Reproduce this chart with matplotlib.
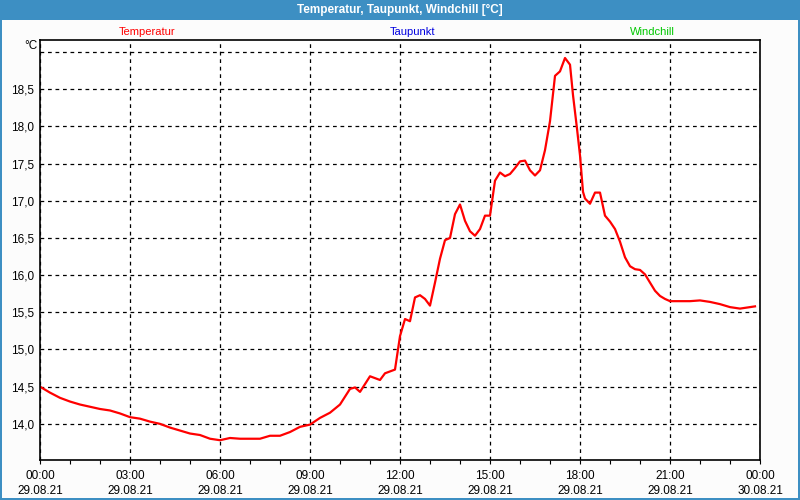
import matplotlib
matplotlib.use("Agg")
import matplotlib.pyplot as plt
import numpy as np

plt.rcParams['font.family'] = ['Liberation Sans', 'DejaVu Sans']

hours = [0, 0.333, 0.667, 1.0, 1.333, 1.667, 2.0, 2.333, 2.667, 3.0, 3.333, 3.667, 4.0,
         4.333, 4.667, 5.0, 5.333, 5.667, 6.0, 6.333, 6.667, 7.0, 7.333, 7.667, 8.0,
         8.333, 8.667, 9.0, 9.333, 9.667, 10.0, 10.333, 10.5, 10.667, 11.0, 11.333,
         11.5, 11.833, 12.0, 12.167, 12.333, 12.5, 12.667, 12.833, 13.0, 13.167,
         13.333, 13.5, 13.667, 13.833, 14.0, 14.167, 14.333, 14.5, 14.667, 14.833,
         15.0, 15.167, 15.333, 15.5, 15.667, 15.833, 16.0, 16.167, 16.333, 16.5,
         16.667, 16.833, 17.0, 17.167, 17.333, 17.5, 17.667, 17.767, 17.9, 18.0,
         18.1, 18.167, 18.333, 18.5, 18.667, 18.833, 19.0, 19.167, 19.333, 19.5,
         19.667, 19.833, 20.0, 20.167, 20.333, 20.5, 20.667, 20.833, 21.0, 21.333,
         21.667, 22.0, 22.333, 22.667, 23.0, 23.333, 23.667, 23.833]
temperatur = [14.50, 14.42, 14.35, 14.30, 14.26, 14.23, 14.20, 14.18, 14.14, 14.09, 14.07, 14.03, 14.00,
              13.95, 13.91, 13.87, 13.85, 13.80, 13.78, 13.81, 13.80, 13.80, 13.80, 13.84, 13.84,
              13.89, 13.96, 13.99, 14.08, 14.15, 14.26, 14.47, 14.49, 14.43, 14.64, 14.59,
              14.68, 14.73, 15.18, 15.41, 15.38, 15.70, 15.73, 15.68, 15.59, 15.90,
              16.22, 16.47, 16.50, 16.82, 16.95, 16.73, 16.59, 16.53, 16.62, 16.80,
              16.80, 17.27, 17.38, 17.33, 17.36, 17.44, 17.53, 17.54, 17.41, 17.34,
              17.41, 17.68, 18.07, 18.68, 18.74, 18.92, 18.83, 18.42, 17.97, 17.61,
              17.12, 17.03, 16.96, 17.11, 17.11, 16.80, 16.72, 16.62, 16.45, 16.24,
              16.12, 16.08, 16.07, 16.01, 15.90, 15.79, 15.72, 15.68, 15.65, 15.65,
              15.65, 15.66, 15.64, 15.61, 15.57, 15.55, 15.57, 15.58]

xtick_hours = [0, 3, 6, 9, 12, 15, 18, 21, 24]
xtick_labels = ["00:00\n29.08.21", "03:00\n29.08.21", "06:00\n29.08.21", "09:00\n29.08.21",
                "12:00\n29.08.21", "15:00\n29.08.21", "18:00\n29.08.21", "21:00\n29.08.21",
                "00:00\n30.08.21"]
ytick_vals = [14.0, 14.5, 15.0, 15.5, 16.0, 16.5, 17.0, 17.5, 18.0, 18.5, 19.0]
ytick_labels = ["14,0", "14,5", "15,0", "15,5", "16,0", "16,5", "17,0", "17,5", "18,0", "18,5", ""]

title = "Temperatur, Taupunkt, Windchill [°C]"
legend_items = [("Temperatur", "#ff0000", 147), ("Taupunkt", "#0000e0", 413), ("Windchill", "#00c800", 652)]

W, H = 800, 500
fig = plt.figure(figsize=(8, 5), dpi=100)
fig.patch.set_facecolor("#3d8fc3")

bg = fig.add_axes([2 / W, 2 / H, 796 / W, (H - 20 - 2) / H])
bg.set_facecolor("#fcfcfc")
bg.set_xticks([]); bg.set_yticks([])
for s in bg.spines.values():
    s.set_visible(False)

fig.text(0.5, 1 - 10 / H, title, color="white", fontsize=8.5, fontweight="bold",
         ha="center", va="center")
for name, col, px in legend_items:
    fig.text(px / W, 1 - 32 / H, name, color=col, fontsize=8, ha="center", va="center")

ax = fig.add_axes([40 / W, 40 / H, 720 / W, 420 / H])
ax.set_facecolor("white")
ax.plot(hours, temperatur, color="#ff0000", lw=1.6, solid_joinstyle="round")
ax.set_xlim(0, 24)
ax.set_ylim(13.514, 19.162)
ax.set_xticks(xtick_hours)
ax.set_xticklabels(xtick_labels, fontsize=8.5, linespacing=1.3)
ax.set_xticks(np.arange(0, 25, 1), minor=True)
ax.set_yticks(ytick_vals)
ax.set_yticklabels(ytick_labels, fontsize=8.5)
ax.tick_params(axis="y", length=0, pad=4)
ax.tick_params(axis="x", which="both", length=3, direction="out", pad=4.5, width=0.8)
ax.grid(True, which="major", color="black", linestyle=(0, (3, 3)), linewidth=0.9)
for s in ax.spines.values():
    s.set_linewidth(1.2)
    s.set_color("black")
fig.text(31 / W, 1 - 46 / H, "°C", fontsize=8.5, ha="center", va="center")

fig.savefig("out.png", dpi=100, facecolor=fig.get_facecolor())
